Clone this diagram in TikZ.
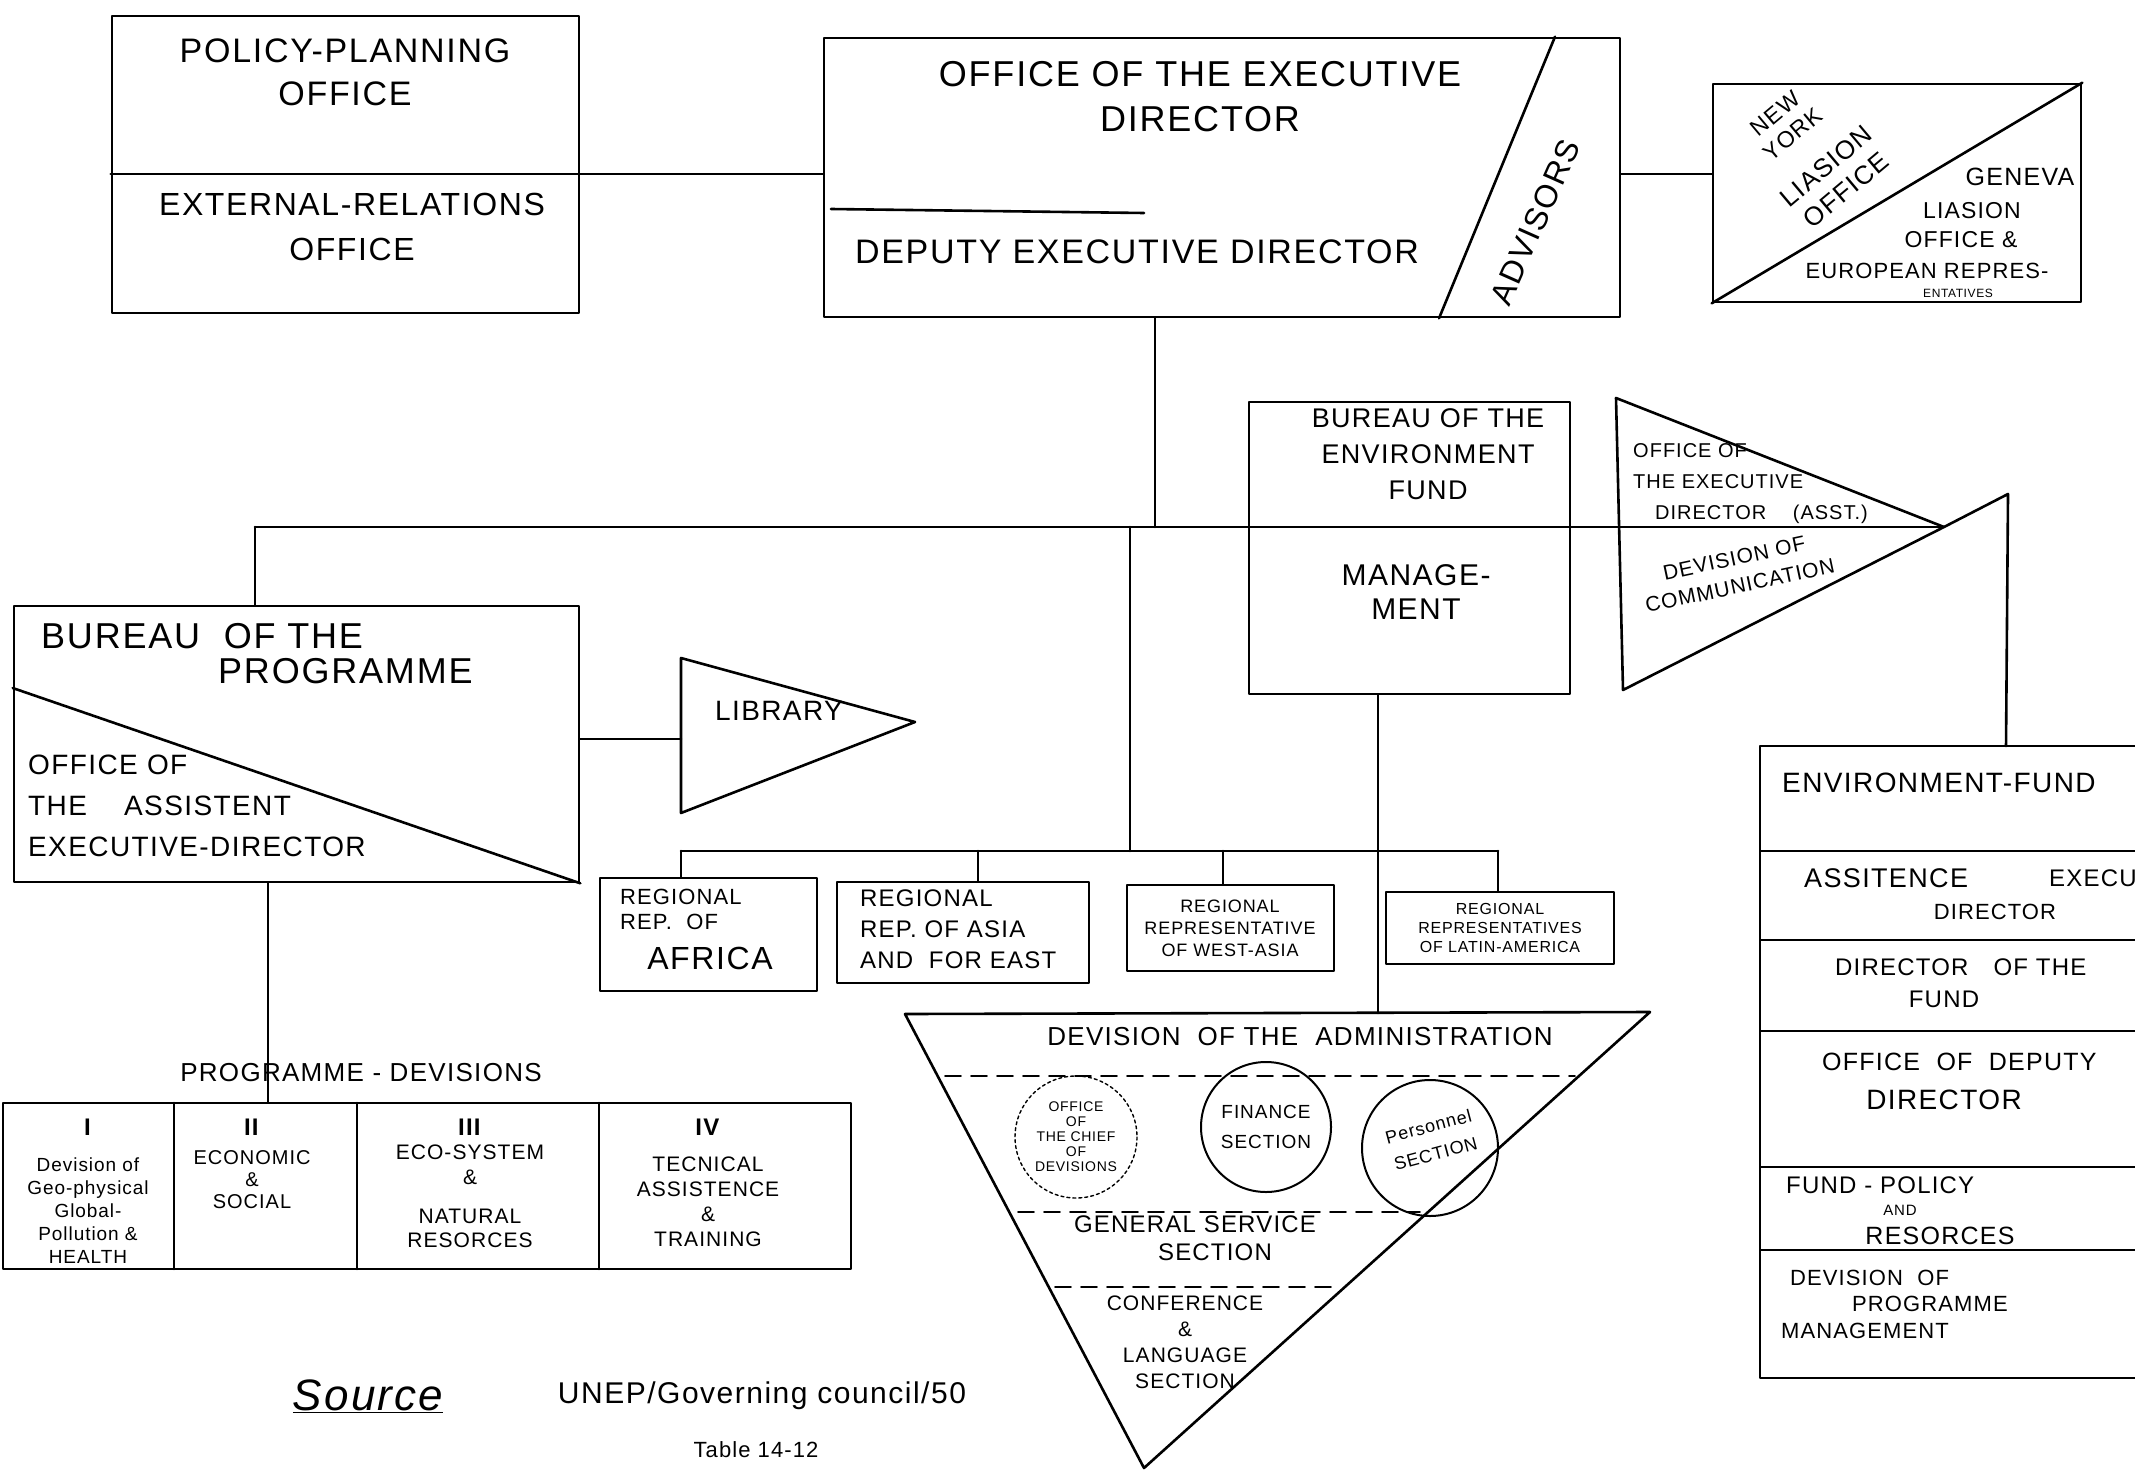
\documentclass[tikz,border=0pt]{standalone}
\usepackage{fontspec}
\setmainfont{Liberation Sans}[LetterSpace=5]
\usetikzlibrary{calc, positioning}

\tikzset{
  unit/.style={draw, line width=2.6pt, inner sep=0pt},
  link/.style={line width=2.6pt},
  sect/.style={line width=1.6pt, dash pattern=on 16pt off 10pt},
  hw/.style 2 args={font=\fontsize{#1}{#2}\selectfont, align=center, inner sep=0pt},
}

\begin{document}
\begin{tikzpicture}[x=1pt, y=-1pt, line join=round, line cap=round]
    \useasboundingbox (0,0) rectangle (2135,1469);
    \fill[white] (0,0) rectangle (2135,1469);

    % top row
    \node[unit, minimum width=467, minimum height=297] (policy) at (345.5,164.5) {};
    \draw[link] (policy.west |- 0,174) -- (policy.east |- 0,174);
    \node[hw={34}{43}] (poltxt) at (345,72) {POLICY-PLANNING\\OFFICE};
    \node[hw={32}{45}] (exttxt) at (352,227) {EXTERNAL-RELATIONS\\OFFICE};

    \node[unit, minimum width=796, minimum height=279] (exec) at (1222,177.5) {};
    \draw[link] (exec.north -| 1555,0) -- (exec.south -| 1439,0);
    \draw[link] (831,209) -- (1144,213);
    \node[hw={36}{45}] (exectxt) at (1200,97) {OFFICE OF THE EXECUTIVE\\DIRECTOR};
    \node[hw={34}{40}] (deptxt) at (1137,252) {DEPUTY EXECUTIVE DIRECTOR};
    \node[hw={32}{36}, rotate=66] (advtxt) at (1535,222) {ADVISORS};

    \node[unit, minimum width=368, minimum height=218] (liaison) at (1897,193) {};
    \draw[link] (liaison.south west) -- (liaison.north east);
    \node[hw={23}{27}, rotate=40] (nytxt) at (1784,124) {NEW\\YORK};
    \node[hw={26}{31}, rotate=40] (nytxt2) at (1836,178) {LIASION\\OFFICE};
    \node[hw={25}{28}] (gen1) at (2020,177) {GENEVA};
    \node[hw={23}{28}] (gen2) at (1972,211) {LIASION};
    \node[hw={23}{28}] (gen3) at (1961,240) {OFFICE \&};
    \node[hw={22}{28}] (gen4) at (1927,271) {EUROPEAN REPRES-};
    \node[hw={12}{14}] (gen5) at (1958,293) {ENTATIVES};

    \draw[link] (policy.east |- 0,174) -- (exec.west |- 0,174);
    \draw[link] (exec.east |- 0,174) -- (liaison.west |- 0,174);

    % spine
    \coordinate (hub) at (1155,527);
    \coordinate (lturn) at (255,527);
    \coordinate (tip) at (1944,527);
    \draw[link] (exec.south -| hub) -- (hub);
    \draw[link] (lturn) -- (tip);

    % environment fund bureau
    \node[unit, minimum width=321, minimum height=292] (envfund) at (1409.5,548) {};
    \node[hw={27}{36}] (envtxt) at (1428,454) {BUREAU OF THE\\ENVIRONMENT\\FUND};
    \node[hw={30}{34}] (mgttxt) at (1416,592) {MANAGE-\\MENT};

    \coordinate (asstA) at (1616,398);
    \coordinate (asstB) at (1623,690);
    \draw[link] (asstA) -- (tip) -- (asstB) -- cycle;
    \node[hw={20}{31}, align=left, anchor=west] (assttxt) at (1633,484) {OFFICE OF\\THE EXECUTIVE\\\hspace{22pt}DIRECTOR \quad (ASST.)};
    \node[hw={21}{28}, rotate=12] (comtxt) at (1737,572) {DEVISION OF\\COMMUNICATION};

    \coordinate (elbow) at (2008,494);
    \coordinate (efund) at (2006,746);
    \draw[link] (tip) -- (elbow) -- (efund);

    % environment fund table
    \draw[link] (2135,746) -| (1760,1378) -- (2135,1378);
    \foreach \y in {851,940,1031,1167,1250}
        \draw[line width=1.8pt] (1760,\y) -- (2135,\y);
    \node[hw={28}{30}, anchor=west] (ef1) at (1782,783) {ENVIRONMENT-FUND};
    \node[hw={27}{30}, anchor=west] (ef2a) at (1804,878) {ASSITENCE};
    \node[hw={24}{30}, anchor=west] (ef2b) at (2049,878) {EXECU};
    \node[hw={22}{30}] (ef2c) at (1995,912) {DIRECTOR};
    \node[hw={24}{30}, anchor=west] (ef3a) at (1835,967) {DIRECTOR\hspace{25pt}OF THE};
    \node[hw={24}{30}] (ef3b) at (1944,999) {FUND};
    \node[hw={25}{30}, anchor=west] (ef4a) at (1822,1062) {OFFICE \ OF \ DEPUTY};
    \node[hw={28}{30}] (ef4b) at (1944,1100) {DIRECTOR};
    \node[hw={24}{30}, anchor=west] (ef5a) at (1786,1185) {FUND - POLICY};
    \node[hw={15}{20}] (ef5b) at (1900,1210) {AND};
    \node[hw={25}{30}] (ef5c) at (1940,1236) {RESORCES};
    \node[hw={22}{24}, anchor=west] (ef6a) at (1790,1278) {DEVISION \ OF};
    \node[hw={22}{24}, anchor=west] (ef6b) at (1852,1304) {PROGRAMME};
    \node[hw={22}{24}, anchor=west] (ef6c) at (1781,1331) {MANAGEMENT};

    % programme bureau
    \node[unit, minimum width=565, minimum height=276] (prog) at (296.5,744) {};
    \draw[link] (prog.west |- 0,688) -- (prog.south east);
    \draw[link] (prog.north -| lturn) -- (lturn);
    \node[hw={36}{40}, anchor=west] (prog1) at (41,636) {BUREAU \ OF THE};
    \node[hw={36}{40}, anchor=west] (prog2) at (218,671) {PROGRAMME};
    \node[hw={28}{41}, align=left, anchor=west] (aedtxt) at (28,806) {OFFICE OF\\THE \quad ASSISTENT\\EXECUTIVE-DIRECTOR};

    \coordinate (libA) at (681,658);
    \coordinate (libB) at (681,813);
    \coordinate (libC) at (915,722);
    \draw[link] (libA) -- (libC) -- (libB) -- cycle;
    \draw[link] (prog.east |- 0,739) -- (libA |- 0,739);
    \node[hw={28}{30}] (libtxt) at (779,711) {LIBRARY};

    % regional representatives
    \coordinate (bus) at (1130,851);
    \draw[link] (hub -| bus) -- (bus);
    \draw[link] (681,851) -- (1498,851);
    \node[unit, minimum width=217, minimum height=113] (afr) at (708.5,934.5) {};
    \node[unit, minimum width=252, minimum height=101] (asia) at (963,932.5) {};
    \node[unit, minimum width=207, minimum height=86] (west) at (1230.5,928) {};
    \node[unit, minimum width=228, minimum height=72] (latin) at (1500,928) {};
    \foreach \r/\x in {afr/681, asia/978, west/1223, latin/1498}
        \draw[link] (\x,851) -- (\r.north -| \x,0);
    \node[hw={22}{25}, align=left, anchor=west] (afrtxt) at (620,909) {REGIONAL\\REP. \ OF};
    \node[hw={32}{34}] (afrname) at (710,958) {AFRICA};
    \node[hw={24}{31}, align=left, anchor=west] (asiatxt) at (860,929) {REGIONAL\\REP. OF ASIA\\AND \ FOR EAST};
    \node[hw={18}{22}] (westtxt) at (1230,928) {REGIONAL\\REPRESENTATIVE\\OF WEST-ASIA};
    \node[hw={16}{19}] (latintxt) at (1500,928) {REGIONAL\\REPRESENTATIVES\\OF LATIN-AMERICA};

    % administration
    \coordinate (admA) at (905,1014);
    \coordinate (admB) at (1650,1012);
    \coordinate (admC) at (1144,1468);
    \draw[link] (admA) -- (admB) -- (admC) -- cycle;
    \draw[link] (envfund.south -| 1378,0) -- (1378,1013);
    \node[hw={26}{30}] (admtxt) at (1300,1037) {DEVISION \ OF THE \ ADMINISTRATION};
    \draw[sect] (945,1076) -- (1575,1076);
    \draw[sect] (1018,1212) -- (1420,1212);
    \draw[sect] (1055,1287) -- (1335,1287);
    \draw[line width=1.4pt, dashed] (1076,1137) circle (61);
    \node[hw={14}{15}] (chieftxt) at (1076,1137) {OFFICE\\OF\\THE CHIEF\\OF\\DEVISIONS};
    \draw[line width=2pt] (1266,1127) circle (65);
    \node[hw={19}{30}] (fintxt) at (1266,1127) {FINANCE\\SECTION};
    \draw[line width=2pt] (1430,1148) circle (68);
    \node[hw={18}{28}, rotate=15] (pertxt) at (1432,1140) {Personnel\\SECTION};
    \node[hw={24}{28}] (gentxt) at (1195,1238) {GENERAL SERVICE\\\hspace{40pt}SECTION};
    \node[hw={21}{26}] (conftxt) at (1185,1342) {CONFERENCE\\\&\\LANGUAGE\\SECTION};

    % programme divisions
    \node[unit, minimum width=848, minimum height=166] (pdiv) at (427,1186) {};
    \foreach \x in {174,357,599}
        \draw[link] (\x,1103) -- (\x,1269);
    \draw[link] (prog.south -| 268,0) -- (pdiv.north -| 268,0);
    \node[hw={26}{30}] (pdivtxt) at (361,1073) {PROGRAMME - DEVISIONS};
    \node[hw={24}{26}] (n1) at (88,1127) {\textbf{I}};
    \node[hw={24}{26}] (n2) at (252,1127) {\textbf{II}};
    \node[hw={24}{26}] (n3) at (470,1127) {\textbf{III}};
    \node[hw={24}{26}] (n4) at (708,1127) {\textbf{IV}};
    \node[hw={19}{23}] (d1) at (88,1211) {Devision of\\Geo-physical\\Global-\\Pollution \&\\HEALTH};
    \node[hw={20}{22}] (d2) at (252,1180) {ECONOMIC\\\&\\SOCIAL};
    \node[hw={21}{25}] (d3a) at (470,1165) {ECO-SYSTEM\\\&};
    \node[hw={21}{24}] (d3b) at (470,1228) {NATURAL\\RESORCES};
    \node[hw={21}{25}] (d4) at (708,1202) {TECNICAL\\ASSISTENCE\\\&\\TRAINING};

    % source
    \node[hw={44}{48}, font=\fontsize{44}{48}\selectfont\itshape] (srctxt) at (368,1396) {\underline{Source}};
    \node[hw={30}{34}] (unep) at (762,1396) {UNEP/Governing council/50};
    \node[hw={22}{26}] (table) at (756,1450) {Table 14-12};
\end{tikzpicture}
\end{document}
